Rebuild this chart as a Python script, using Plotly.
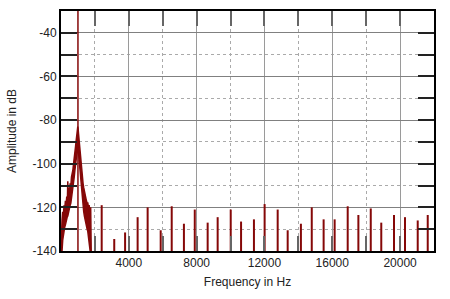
import plotly.graph_objects as go

# --- data ---
fundamental_freq = 1000
fundamental_level = 0

skirt_freq = [0, 30, 60, 100, 140, 180, 220, 260, 300, 340, 380, 400, 420, 460, 500, 540, 580, 620, 660, 700,
              740, 780, 820, 860, 900, 940, 970, 990, 1010, 1030, 1060, 1100, 1140, 1180, 1220, 1260, 1300, 1340,
              1380, 1420, 1460, 1500, 1540, 1580, 1620, 1660, 1700, 1730, 1750, 1770, 1790]
skirt_upper = [-140, -130, -126, -122, -124, -119, -121, -117, -119, -115, -116, -108, -114, -111, -113, -109, -110,
               -106, -105, -103, -100, -98, -95, -92, -89, -86, -84, -83, -84, -86, -89, -93, -97, -101, -104, -107,
               -109, -111, -113, -114, -116, -117, -118, -118, -120, -119, -122, -124, -120, -130, -145]
skirt_lower = [-145, -143, -140, -135, -132, -131, -129, -128, -126, -126, -124, -124, -123, -122, -121, -119, -118,
               -116, -114, -112, -109, -106, -103, -100, -97, -95, -93, -92, -93, -95, -98, -102, -106, -110, -114,
               -117, -120, -122, -124, -126, -127, -128, -130, -131, -133, -135, -138, -140, -142, -145, -145]

spike_freq = [2400, 3140, 3780, 4520, 5110, 5880, 6530, 7250, 7890, 8650, 9240, 10010, 10620, 11380, 12010,
              12780, 13370, 14150, 14790, 15490, 16140, 16910, 17540, 18270, 18890, 19640, 20290, 21040, 21630]
spike_level = [-119, -134.5, -131.5, -124.5, -120, -130.5, -119.5, -127.5, -121, -127, -124.5, -121, -126.5,
               -125.5, -118.5, -121, -130.5, -127.5, -120, -125.5, -125.5, -119.5, -123.5, -120.5, -127, -123.5,
               -124.5, -126, -123.5]

x_tickvals = [0, 4000, 8000, 12000, 16000, 20000]
x_ticktext = ["", "4000", "8000", "12000", "16000", "20000"]
y_tickvals = [-140, -120, -100, -80, -60, -40]
y_ticktext = ["-140", "-120", "-100", "-80", "-60", "-40"]

FLOOR = -150
RED = "#850808"

fig = go.Figure()

# noise skirt as a filled band
fig.add_trace(go.Scatter(x=skirt_freq, y=skirt_lower, mode="lines",
                         line=dict(color=RED, width=1.5), showlegend=False, hoverinfo="skip"))
fig.add_trace(go.Scatter(x=skirt_freq, y=skirt_upper, mode="lines", fill="tonexty", fillcolor=RED,
                         line=dict(color=RED, width=1.5), showlegend=False, hoverinfo="skip"))

# fundamental
fig.add_trace(go.Scatter(x=[fundamental_freq, fundamental_freq], y=[FLOOR, fundamental_level], mode="lines",
                         line=dict(color=RED, width=1.5), showlegend=False))

# spikes
sx, sy = [], []
for f, v in zip(spike_freq, spike_level):
    sx += [f, f, None]
    sy += [FLOOR, v, None]
fig.add_trace(go.Scatter(x=sx, y=sy, mode="lines", line=dict(color=RED, width=2), showlegend=False))

font = dict(family="Liberation Sans, Arial, sans-serif", size=12, color="#222")

fig.update_layout(
    width=450, height=299,
    margin=dict(l=61, r=16, t=11, b=48),
    paper_bgcolor="white", plot_bgcolor="white",
    font=font,
    showlegend=False,
)
fig.update_xaxes(
    range=[0, 22000],
    tickmode="array", tickvals=x_tickvals, ticktext=x_ticktext,
    showgrid=True, gridcolor="#9a9a9a", gridwidth=1,
    ticks="inside", ticklen=15, tickcolor="#666", tickwidth=2,
    showline=True, linecolor="black", linewidth=2, mirror="ticks",
    minor=dict(tickmode="linear", tick0=0, dtick=2000, showgrid=True, griddash="dot",
               gridcolor="#aaaaaa", gridwidth=1, ticks="inside", ticklen=15, tickcolor="#666", tickwidth=2),
    zeroline=False,
    title=dict(text="Frequency in Hz", font=font, standoff=8),
    automargin=False,
)
fig.update_yaxes(
    range=[-140, -30],
    tickmode="array", tickvals=y_tickvals, ticktext=y_ticktext,
    showgrid=True, gridcolor="#808080", gridwidth=1,
    ticks="inside", ticklen=16, tickcolor="#222", tickwidth=2,
    showline=True, linecolor="black", linewidth=2, mirror="ticks",
    minor=dict(tickmode="linear", tick0=-140, dtick=10, showgrid=True, griddash="dot",
               gridcolor="#aaaaaa", gridwidth=1, ticks="inside", ticklen=16, tickcolor="#222", tickwidth=2),
    zeroline=False,
    title=dict(text="Amplitude in dB", font=font, standoff=13),
    automargin=False,
)

fig.write_html("out.html")
